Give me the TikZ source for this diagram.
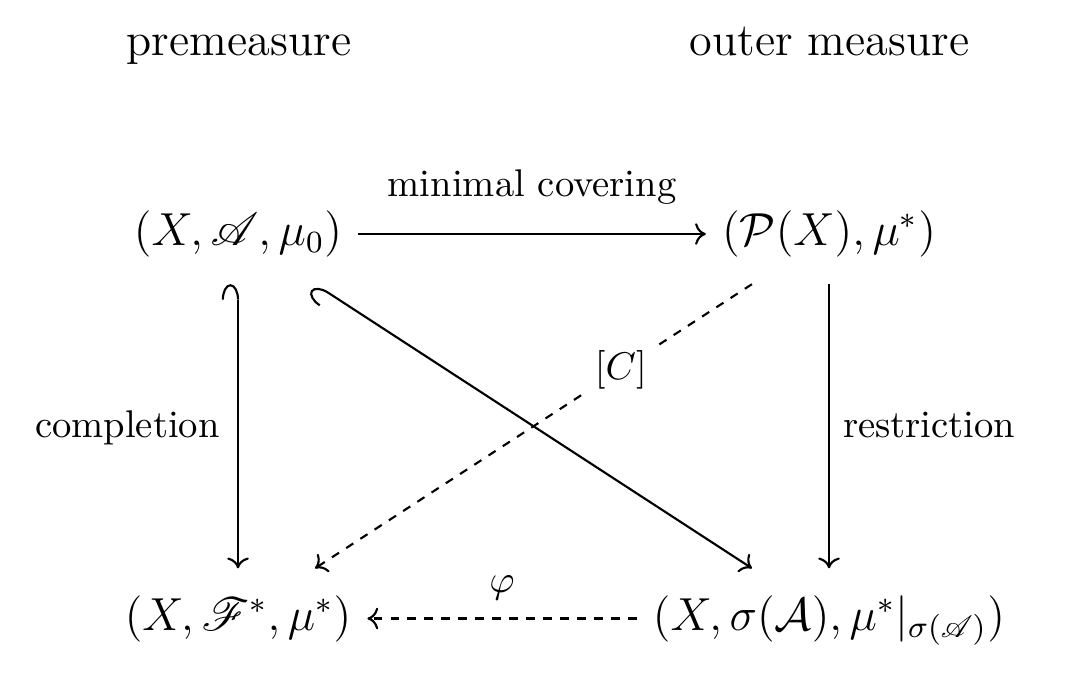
\documentclass[tikz,border=0pt]{standalone}
\usepackage{amsmath,amssymb,mathrsfs}
\usetikzlibrary{arrows.meta}
\begin{document}
\begin{tikzpicture}[x=0.25907pt,y=-0.25907pt,
  cell/.style={font=\large, inner xsep=4pt, inner ysep=6.8pt, text height=9pt, text depth=3pt},
  toplabel/.style={font=\large, anchor=base, inner sep=0pt},
  arr/.style={line width=0.55pt, -{Computer Modern Rightarrow[width=5.6pt,length=2.8pt]}},
  hooktail/.style={{Hooks[left,width=8.4pt,length=4pt]}-{Computer Modern Rightarrow[width=5.6pt,length=2.8pt]}},
  dsh/.style={dash pattern=on 2.2pt off 2.2pt}
]
\useasboundingbox (0,0) rectangle (1075,683);
\node[toplabel] (pre) at (239,55) {premeasure};
\node[toplabel] (outer) at (829.5,55) {outer measure};
\node[cell] (A) at (238,234) {$(X, \mathscr{A}, \mu_0)$};
\node[cell] (B) at (829,234) {$(\mathcal{P}(X), \mu^*)$};
\node[cell] (C) at (238,618.5) {$(X, \mathscr{F}^*, \mu^*)$};
\node[cell] (D) at (829,618.5) {$(X, \sigma(\mathcal{A}), \mu^*|_{\sigma(\mathscr{A})})$};
\draw[arr] (A) -- node[midway, anchor=base, yshift=9.6pt, inner sep=0pt] {minimal covering} (B);
\draw[arr, hooktail] (A) -- node[midway, anchor=base east, xshift=-4.5pt, yshift=-2.8pt, inner sep=0pt] {completion} (C);
\draw[arr] (B) -- node[midway, anchor=base west, xshift=3.4pt, yshift=-2.8pt, inner sep=0pt] {restriction} (D);
\draw[arr, hooktail] (A) -- (D);
\draw[arr, dsh] (B) -- node[pos=0.3, fill=white, inner sep=2.5pt] {$[C]$} (C);
\draw[arr, dsh] (D) -- node[midway, anchor=base, yshift=6.7pt, inner sep=0pt] {$\varphi$} (C);
\end{tikzpicture}
\end{document}
